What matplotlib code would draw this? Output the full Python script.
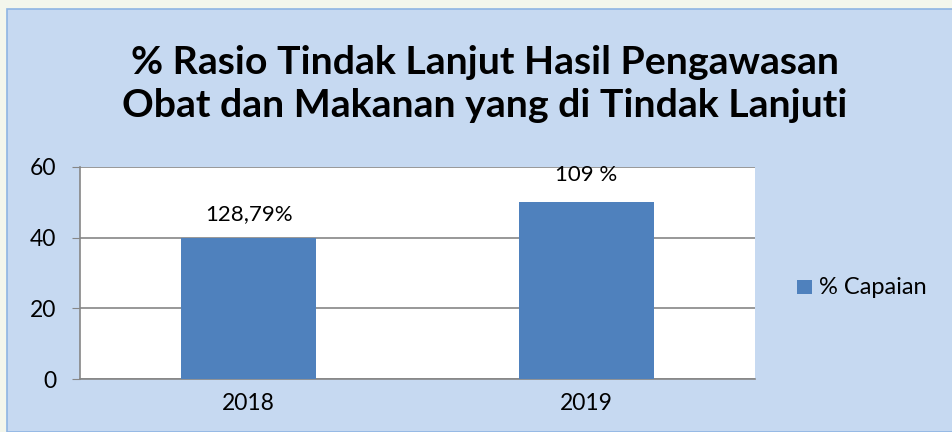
import matplotlib
matplotlib.use("Agg")
import matplotlib.pyplot as plt
from matplotlib.patches import Rectangle

years = ["2018", "2019"]
capaian = [40, 50]
labels = ["128,79%", "109 %"]
yticks = [0, 20, 40, 60]

plt.rcParams['font.family'] = ['Lato', 'DejaVu Sans']

fig = plt.figure(figsize=(9.53, 4.32), dpi=100)
fig.patch.set_facecolor('#f3f6ec')
# chart panel
fig.patches.append(Rectangle((7/953, 0), 1, 1 - 9/432, transform=fig.transFigure,
                             facecolor='#c6d9f1', edgecolor='#8eb4e3', lw=1.2, zorder=-5))

ax = fig.add_axes([80/953, 1 - 379/432, 675/953, 212/432])
ax.set_facecolor('white')
x = range(len(years))
ax.bar(x, capaian, width=0.4, color='#4f81bd', zorder=3)
# label offsets in points above the bar top
offs = [17, 20]
for i, v in enumerate(capaian):
    ax.annotate(labels[i], (i, v), xytext=(0, offs[i]), textcoords='offset points',
                ha='center', va='center', fontsize=16, color='black')

ax.set_xlim(-0.5, 1.5)
ax.set_ylim(0, 60)
ax.set_yticks(yticks)
ax.set_xticks(list(x))
ax.set_xticklabels(years)
ax.tick_params(axis='y', length=6, color='#868686', labelsize=16.5, pad=11)
ax.tick_params(axis='x', length=0, labelsize=16.5, pad=10)
ax.grid(axis='y', color='#868686', lw=1.2, zorder=1)
for s in ['top', 'right']:
    ax.spines[s].set_visible(False)
ax.spines['left'].set_color('#868686')
ax.spines['bottom'].set_color('#868686')
ax.spines['left'].set_linewidth(1.2)
ax.spines['bottom'].set_linewidth(1.2)

fig.text(485/953, 1 - 84/432, "% Rasio Tindak Lanjut Hasil Pengawasan\nObat dan Makanan yang di Tindak Lanjuti",
         ha='center', va='center', fontsize=28.3, fontweight='bold', linespacing=1.3)

fig.patches.append(Rectangle((797/953, 1 - 294/432), 15/953, 14/432, transform=fig.transFigure,
                             facecolor='#4f81bd', edgecolor='none'))
fig.text(819/953, 1 - 287/432, "% Capaian", ha='left', va='center', fontsize=17)

fig.savefig("out.png", dpi=100, facecolor=fig.get_facecolor())
